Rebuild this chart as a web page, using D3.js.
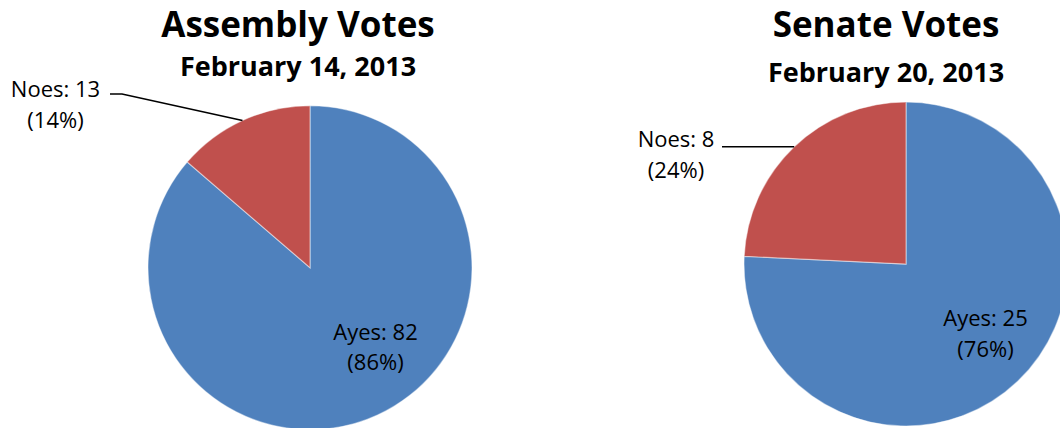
<!DOCTYPE html>
<html><head><meta charset="utf-8">
<script src="https://cdn.jsdelivr.net/npm/d3@7"></script>
<style>body{margin:0;background:#fff;overflow:hidden} svg{display:block}</style>
</head><body>
<script>
// ---- data ----
const categories = ["Ayes", "Noes"];
const assemblyVotes = [82, 13];
const senateVotes = [25, 8];
const chartTitles = ["Assembly Votes", "Senate Votes"];
const chartDates = ["February 14, 2013", "February 20, 2013"];
const sliceColors = ["#4F81BD", "#C0504D"];

// ---- layout ----
const W = 1060, H = 428;
const FONT = "'Open Sans', sans-serif";
const layouts = [
  {cx: 310, cy: 267.7, r: 162, titleX: 298, titleY: 37, subY: 76,
   inside: {dx: 65.5, dy: 72.3}, outside: {x: 55.5, y: 97, lineStartX: 110, lineY: 94, elbow: 12}},
  {cx: 906, cy: 264, r: 162, titleX: 886, titleY: 37, subY: 82,
   inside: {dx: 79.5, dy: 62}, outside: {x: 676, y: 147, lineStartX: 722, lineY: null, elbow: 0}}
];
const datasets = [assemblyVotes, senateVotes];

const svg = d3.select("body").append("svg").attr("width", W).attr("height", H);

const pie = d3.pie().sort(null).value(d => d.value).startAngle(0).endAngle(2 * Math.PI);

datasets.forEach((vals, i) => {
  const L = layouts[i];
  const total = d3.sum(vals);
  const rows = categories.map((c, k) => ({cat: c, value: vals[k], pct: Math.round(vals[k] / total * 100), color: sliceColors[k]}));
  const arcs = pie(rows);
  const arc = d3.arc().innerRadius(0).outerRadius(L.r);
  const g = svg.append("g").attr("transform", `translate(${L.cx},${L.cy})`);

  g.selectAll("path.slice").data(arcs).join("path")
    .attr("class", "slice")
    .attr("d", arc)
    .attr("fill", d => d.data.color)
    .attr("stroke", "#ffffff")
    .attr("stroke-opacity", 0.45)
    .attr("stroke-width", 1.2);

  // titles
  svg.append("text").attr("x", L.titleX).attr("y", L.titleY)
    .attr("text-anchor", "middle").attr("font-family", FONT)
    .attr("font-weight", "bold").attr("font-size", 35).attr("fill", "#000")
    .text(chartTitles[i]);
  svg.append("text").attr("x", L.titleX).attr("y", L.subY)
    .attr("text-anchor", "middle").attr("font-family", FONT)
    .attr("font-weight", "bold").attr("font-size", 27).attr("fill", "#000")
    .text(chartDates[i]);

  // inside label (Ayes)
  const a0 = arcs[0];
  const inL = g.append("text").attr("text-anchor", "middle")
    .attr("font-family", FONT).attr("font-size", 22).attr("fill", "#000");
  inL.append("tspan").attr("x", L.inside.dx).attr("y", L.inside.dy)
    .text(`${a0.data.cat}: ${a0.data.value}`);
  inL.append("tspan").attr("x", L.inside.dx).attr("y", L.inside.dy + 30.5)
    .text(`(${a0.data.pct}%)`);

  // outside label (Noes) with leader
  const a1 = arcs[1];
  const mid = (a1.startAngle + a1.endAngle) / 2;
  const ex = L.cx + L.r * Math.sin(mid), ey = L.cy - L.r * Math.cos(mid);
  const outL = svg.append("text").attr("text-anchor", "middle")
    .attr("font-family", FONT).attr("font-size", 22).attr("fill", "#000");
  outL.append("tspan").attr("x", L.outside.x).attr("y", L.outside.y)
    .text(`${a1.data.cat}: ${a1.data.value}`);
  outL.append("tspan").attr("x", L.outside.x).attr("y", L.outside.y + 30.5)
    .text(`(${a1.data.pct}%)`);
  const ly = L.outside.lineY == null ? ey : L.outside.lineY;
  const pts = [[L.outside.lineStartX, ly], [L.outside.lineStartX + L.outside.elbow, ly], [ex, ey]];
  svg.append("path").attr("d", d3.line()(pts))
    .attr("fill", "none").attr("stroke", "#000").attr("stroke-width", 1.5);
});
</script>
</body></html>
